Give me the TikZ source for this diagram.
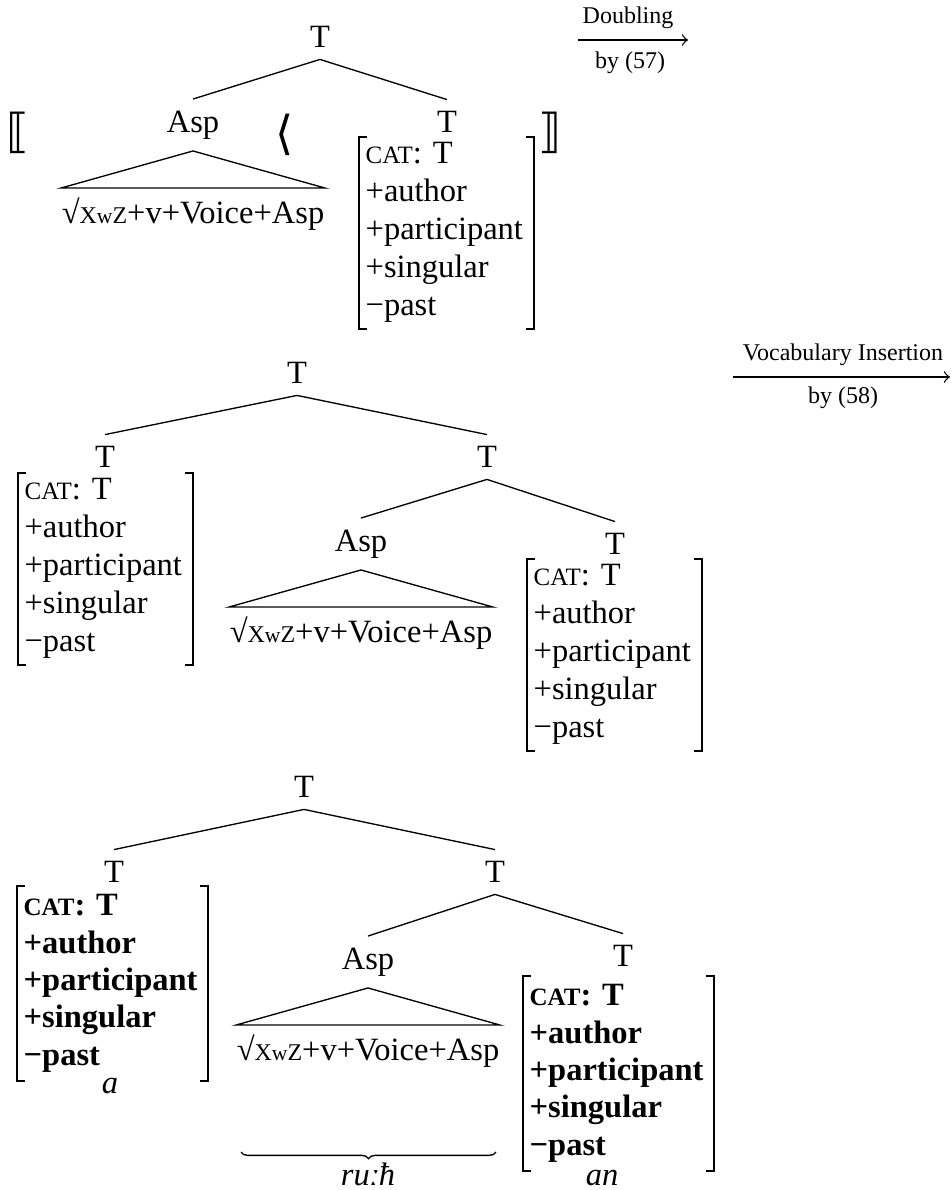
\documentclass[tikz,border=0pt]{standalone}
\usepackage{fontspec}
\setmainfont{Liberation Serif}
\newfontfamily\symfont{DejaVu Sans}
\usetikzlibrary{decorations.pathreplacing}

\newcommand{\xwz}{√{\fontsize{7.2}{8}\selectfont X}{\fontsize{6.5}{7}\selectfont w}{\fontsize{7.2}{8}\selectfont Z}+v+Voice+Asp}
\newcommand{\feats}{{\fontsize{7.5}{8}\selectfont CAT}: T\\+author\\+participant\\+singular\\−past}
\newcommand{\fsbrackets}[1]{%
\draw[brk] ([xshift=2.4pt]#1.north west) -- (#1.north west) -- (#1.south west) -- ([xshift=2.4pt]#1.south west);
\draw[brk] ([xshift=-2.4pt]#1.north east) -- (#1.north east) -- (#1.south east) -- ([xshift=-2.4pt]#1.south east);}

\begin{document}
\begin{tikzpicture}[x=0.3pt,y=-0.3pt,
  every node/.style={font=\fontsize{9.75}{11.4}\selectfont},
  lab/.style={font=\fontsize{7.2}{8}\selectfont, inner sep=1pt},
  gl/.style={font=\fontsize{9.75}{11.4}\selectfont\itshape, inner sep=0pt},
  fs/.style={anchor=north west, align=left, inner xsep=1.8pt, inner ysep=1.5pt, text width=48.6pt},
  bfs/.style={fs, text width=53.4pt, inner ysep=2.4pt, font=\fontsize{9.75}{11.2}\selectfont\bfseries},
  brk/.style={line width=0.6pt},
  sq/.style={anchor=base, inner sep=0pt},
  big/.style={font=\symfont\fontsize{14}{14}\selectfont, inner sep=0pt}]
\useasboundingbox (0,0) rectangle (951,1190);

% before doubling
\node (tA) at (320,37) {T};
\node (aspA) at (193,125) {Asp};
\node (tA2) at (447,122) {T};
\draw (tA.south) -- (aspA.north);
\draw (tA.south) -- (tA2.north);
\node[sq] (sqA) at (193,223) {\xwz};
\coordinate (bA) at (0,188);
\draw (aspA.south) -- (sqA.west |- bA) -- (sqA.east |- bA) -- cycle;
\node[fs] (fsA) at (359,137) {\feats};
\fsbrackets{fsA}
\node[big] (lbA) at (18,133) {⟦};
\node[big] (laA) at (285,135) {⟨};
\node[big] (rbA) at (550,133) {⟧};

\coordinate (dS) at (578,40);
\coordinate (dE) at (688,40);
\draw[->] (dS) -- (dE);
\node[lab] (dT) at (628,18) {Doubling};
\node[lab] (dB) at (630,63) {by (57)};

% after doubling
\node (tB) at (297,373) {T};
\node (tB1) at (105,457) {T};
\node (tB2) at (487,457) {T};
\node (aspB) at (361,544) {Asp};
\node (tB3) at (615,544) {T};
\draw (tB.south) -- (tB1.north);
\draw (tB.south) -- (tB2.north);
\draw (tB2.south) -- (aspB.north);
\draw (tB2.south) -- (tB3.north);
\node[sq] (sqB) at (361,642) {\xwz};
\coordinate (bB) at (0,607);
\draw (aspB.south) -- (sqB.west |- bB) -- (sqB.east |- bB) -- cycle;
\node[fs] (fsB) at (18,473) {\feats};
\fsbrackets{fsB}
\node[fs] (fsC) at (527,559) {\feats};
\fsbrackets{fsC}

\coordinate (vS) at (733,377);
\coordinate (vE) at (950,377);
\draw[->] (vS) -- (vE);
\node[lab] (vT) at (843,355) {Vocabulary Insertion};
\node[lab] (vB) at (843,398) {by (58)};

% after insertion
\node (tC) at (304,787) {T};
\node (tC1) at (114,872) {T};
\node (tC2) at (495,872) {T};
\node (aspC) at (368,962) {Asp};
\node (tC3) at (623,956) {T};
\draw (tC.south) -- (tC1.north);
\draw (tC.south) -- (tC2.north);
\draw (tC2.south) -- (aspC.north);
\draw (tC2.south) -- (tC3.north);
\node[sq] (sqC) at (368,1060) {\xwz};
\coordinate (bC) at (0,1025);
\draw (aspC.south) -- (sqC.west |- bC) -- (sqC.east |- bC) -- cycle;
\node[bfs] (fsD) at (17,886) {\feats};
\fsbrackets{fsD}
\node[bfs] (fsE) at (523,976) {\feats};
\fsbrackets{fsE}
\node[gl] (aD) at (110,1086) {a};
\node[gl] (anE) at (602,1178) {an};
\coordinate (brL) at (241,1152);
\coordinate (brR) at (496,1152);
\draw[decorate, decoration={brace, mirror, amplitude=2pt}] (brL) -- (brR);
\node[gl] (ruC) at (368,1174) {ruːħ};
\end{tikzpicture}
\end{document}
